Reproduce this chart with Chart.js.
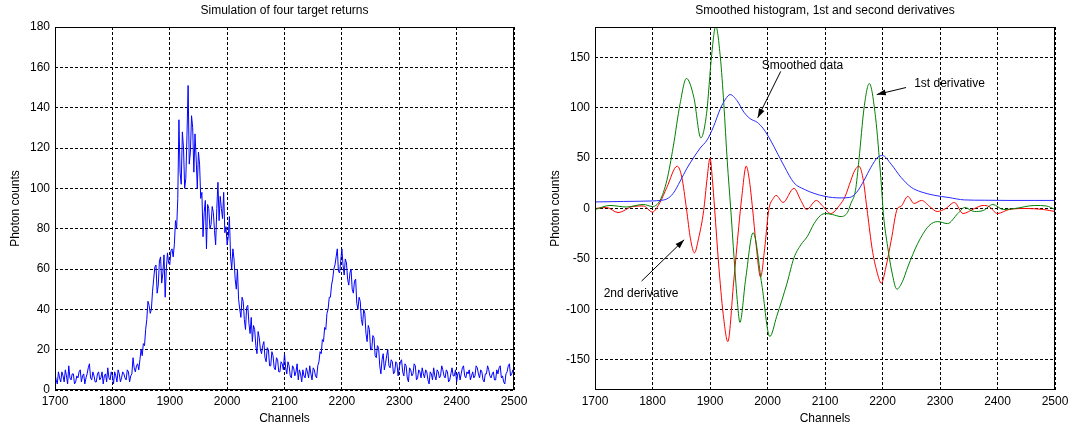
<!DOCTYPE html>
<html lang="en">
<head>
  <meta charset="UTF-8">
  <title>Target returns</title>
  <script src="https://cdn.jsdelivr.net/npm/chart.js"></script>
  <style>
    body { margin: 0; background: #fff; }
    canvas { position: absolute; top: 0; }
    #left { left: 0; }
    #right { left: 540px; }
  </style>
</head>
<body>
  <canvas id="left" width="540" height="432"></canvas>
  <canvas id="right" width="534" height="432"></canvas>

  <script>
    // left panel: raw photon counts, one value every 2 channels
    const channelStart = 1700;
    const channelStep = 2;
    const counts = [
      8, 5, 3, 9, 6, 4, 9, 7, 4, 10, 7, 3, 12, 6, 5, 8, 8, 3, 4, 7,
      6, 9, 10, 4, 7, 8, 3, 6, 8, 11, 13, 6, 5, 9, 7, 4, 4, 8, 9, 5,
      6, 9, 3, 7, 8, 4, 11, 6, 5, 9, 7, 3, 9, 7, 4, 10, 8, 4, 6, 9,
      8, 6, 5, 10, 9, 4, 7, 8, 16, 11, 9, 12, 13, 10, 15, 20, 17, 23, 22, 30,
      35, 44, 42, 38, 40, 49, 55, 61, 62, 48, 52, 64, 66, 53, 58, 67, 46, 60, 68, 63,
      62, 69, 70, 66, 72, 84, 80, 95, 134, 108, 102, 128, 120, 100, 105, 126, 151, 112, 118, 136,
      130, 108, 127, 115, 100, 118, 112, 95, 98, 76, 88, 94, 70, 92, 90, 80, 82, 91, 88, 79,
      72, 90, 103, 84, 96, 90, 85, 98, 78, 81, 72, 76, 86, 66, 60, 70, 65, 55, 50, 60,
      45, 40, 36, 46, 44, 35, 30, 41, 42, 33, 28, 36, 24, 32, 30, 22, 18, 29, 26, 20,
      18, 22, 24, 16, 14, 21, 20, 12, 12, 19, 17, 11, 10, 16, 15, 9, 9, 14, 13, 10,
      18, 11, 8, 14, 12, 7, 6, 12, 11, 7, 9, 13, 5, 10, 8, 4, 10, 7, 6, 11,
      9, 6, 12, 8, 5, 11, 10, 7, 6, 12, 14, 19, 18, 25, 24, 31, 30, 38, 40, 46,
      46, 52, 55, 60, 62, 66, 70, 59, 58, 64, 70, 62, 57, 65, 63, 55, 52, 58, 60, 50,
      48, 54, 55, 43, 40, 46, 44, 35, 32, 40, 38, 28, 24, 32, 30, 20, 20, 27, 26, 17,
      16, 22, 21, 12, 8, 15, 18, 10, 13, 17, 20, 12, 11, 15, 14, 8, 9, 14, 13, 7,
      11, 14, 15, 9, 7, 13, 12, 6, 4, 11, 10, 7, 8, 13, 12, 5, 6, 10, 9, 6,
      11, 8, 6, 10, 9, 5, 3, 9, 8, 5, 11, 7, 5, 10, 9, 6, 7, 12, 10, 7,
      6, 10, 9, 4, 5, 8, 11, 7, 7, 10, 4, 8, 9, 5, 8, 11, 12, 7, 6, 9,
      8, 10, 5, 7, 9, 6, 7, 12, 11, 8, 6, 10, 9, 5, 4, 8, 8, 12, 10, 7,
      6, 8, 9, 5, 5, 10, 8, 11, 12, 6, 7, 4, 3, 8, 9, 12, 13, 7, 8, 10,
      8
    ];

    // right panel: smoothed histogram and its derivatives
    const smoothX = [1700, 1750, 1800, 1813, 1825, 1836, 1848, 1860, 1871, 1883, 1895, 1906, 1918, 1927, 1935, 1947, 1959, 1970, 1982, 1993, 2005, 2017, 2029, 2046, 2064, 2081, 2100, 2126, 2143, 2155, 2168, 2180, 2192, 2200, 2215, 2232, 2250, 2267, 2291, 2314, 2343, 2378, 2420, 2465, 2500];
    const smoothY = [6.5, 7, 7.5, 8, 9.5, 15, 27, 40, 50, 60, 68, 81, 99, 108.5, 113, 107, 95.5, 89, 85.5, 79, 68, 55, 42, 25.5, 19, 15, 12, 10.5, 11, 16, 28, 41, 51, 52.5, 44, 31, 21, 16.5, 13, 11, 8.5, 8.2, 8, 8, 8];

    const d1X = [1700, 1726, 1755, 1784, 1800, 1813, 1825, 1836, 1848, 1859, 1872, 1884, 1894, 1903, 1910, 1918, 1924, 1930, 1936, 1942, 1948, 1952, 1962, 1975, 1990, 2004, 2016, 2034, 2046, 2058, 2069, 2081, 2092, 2101, 2113, 2128, 2139, 2145, 2153, 2159, 2168, 2177, 2188, 2197, 2202, 2209, 2216, 2225, 2235, 2244, 2261, 2281, 2296, 2313, 2331, 2343, 2360, 2375, 2392, 2410, 2430, 2465, 2485, 2500];
    const d1Y = [-1, 3, 1.5, 4, 2, 8, 28, 61, 104, 129, 110, 70, 94, 153, 181, 150, 104, 47, 0, -50, -95, -113, -70, -24, -75, -127, -107, -74, -49, -36, -28, -15, -7, -5, -6, -8, -4, 5, 18, 48, 100, 124, 90, 31, -8, -38, -62, -80, -72, -58, -35, -17, -13, -15, -5, 1, -3, -2, 4, -1, 0, 3, 2.5, -1];

    const d2X = [1700, 1720, 1740, 1766, 1784, 1800, 1813, 1825, 1843, 1851, 1859, 1866, 1873, 1880, 1889, 1895, 1900, 1904, 1908, 1915, 1923, 1931, 1941, 1950, 1955, 1963, 1968, 1974, 1980, 1988, 1995, 2002, 2010, 2015, 2027, 2046, 2058, 2068, 2085, 2095, 2110, 2125, 2135, 2145, 2152, 2159, 2166, 2174, 2182, 2190, 2198, 2206, 2215, 2226, 2232, 2244, 2255, 2268, 2282, 2295, 2310, 2325, 2340, 2360, 2375, 2385, 2400, 2420, 2450, 2480, 2500];
    const d2Y = [0, 1, -4, 2, 2.5, -3.5, 6, 21, 42, 31, 0, -30, -44, -30, -2, 30, 50, 30, 0, -55, -105, -132, -74, -18, 10, 42, 30, 0, -35, -68, -40, -2, 10, 13, 6, 20, 8, -1, 8, 3, -5, 3, 12, 28, 38, 42, 30, -5, -40, -62, -74, -58, -32, 0, 2, 12, 5, 8, 2, -3, 0, 6, -5, 0, 3, 2, -5, -1, 0, -1, -3];

    // text labels with arrows, in data units
    const notes = [
      { text: "Smoothed data", x: 1990, y: 142, from: [2023, 136], to: [1983, 90] },
      { text: "1st derivative", x: 2255, y: 124, from: [2241, 120], to: [2190, 113] },
      { text: "2nd derivative", x: 1715, y: -84, from: [1781, -72], to: [1855, -31] }
    ];

    const FONT = '12px "Liberation Sans", Arial, sans-serif';
    Chart.defaults.font.family = '"Liberation Sans", Arial, sans-serif';
    Chart.defaults.font.size = 12;
    Chart.defaults.color = "#000";

    const toPoints = (xs, ys) => xs.map((x, i) => ({ x: x, y: ys[i] }));

    // MATLAB-ish frame, title and annotations
    const framePlugin = {
      id: "frame",
      afterDraw(chart, args, opts) {
        const ctx = chart.ctx;
        const a = chart.chartArea;
        ctx.save();
        ctx.strokeStyle = "#000";
        ctx.lineWidth = 1;
        ctx.strokeRect(Math.round(a.left) + 0.5, Math.round(a.top) + 0.5,
          Math.round(a.right - a.left) - 1, Math.round(a.bottom - a.top) - 1);

        ctx.font = FONT;
        ctx.fillStyle = "#000";
        ctx.textAlign = "center";
        ctx.textBaseline = "middle";
        ctx.fillText(opts.title, (a.left + a.right) / 2, 11);

        const xs = chart.scales.x, ys = chart.scales.y;
        (opts.notes || []).forEach(n => {
          ctx.textAlign = "left";
          ctx.fillText(n.text, xs.getPixelForValue(n.x), ys.getPixelForValue(n.y));
          const x1 = xs.getPixelForValue(n.from[0]), y1 = ys.getPixelForValue(n.from[1]);
          const x2 = xs.getPixelForValue(n.to[0]), y2 = ys.getPixelForValue(n.to[1]);
          ctx.beginPath();
          ctx.moveTo(x1, y1);
          ctx.lineTo(x2, y2);
          ctx.stroke();
          const ang = Math.atan2(y2 - y1, x2 - x1);
          const len = 9, half = 3;
          ctx.beginPath();
          ctx.moveTo(x2, y2);
          ctx.lineTo(x2 - len * Math.cos(ang) + half * Math.sin(ang), y2 - len * Math.sin(ang) - half * Math.cos(ang));
          ctx.lineTo(x2 - len * Math.cos(ang) - half * Math.sin(ang), y2 - len * Math.sin(ang) + half * Math.cos(ang));
          ctx.closePath();
          ctx.fill();
        });
        ctx.restore();
      }
    };

    function makeOptions(yMin, yMax, yStep, padRight, title, notesList) {
      const grid = { color: "#000", lineWidth: 1, drawTicks: false, borderDash: [3, 2] };
      return {
        responsive: false,
        animation: false,
        events: [],
        layout: { padding: { top: 27, right: padRight, left: 0, bottom: 0 } },
        plugins: {
          legend: { display: false },
          tooltip: { enabled: false },
          frame: { title: title, notes: notesList }
        },
        elements: { point: { radius: 0 }, line: { borderWidth: 1 } },
        scales: {
          x: {
            type: "linear",
            min: 1700, max: 2500,
            grid: grid,
            border: { display: false, dash: [3, 2] },
            ticks: { stepSize: 100, padding: 4, maxRotation: 0, autoSkip: false, callback: v => String(v) },
            title: { display: true, text: "Channels", padding: { top: 0, bottom: 6 } },
            afterFit: s => { s.height = 42; }
          },
          y: {
            min: yMin, max: yMax,
            grid: grid,
            border: { display: false, dash: [3, 2] },
            ticks: { stepSize: yStep, padding: 5, autoSkip: false, callback: v => String(v) },
            afterBuildTicks: s => { s.ticks = s.ticks.filter(t => t.value % yStep === 0); },
            title: { display: true, text: "Photon counts", padding: { top: 8, bottom: 0 } },
            afterFit: s => { s.width = 55; }
          }
        }
      };
    }

    new Chart(document.getElementById("left"), {
      type: "line",
      data: {
        datasets: [{
          data: counts.map((v, i) => ({ x: channelStart + i * channelStep, y: v })),
          borderColor: "#0000ff",
          tension: 0
        }]
      },
      options: makeOptions(0, 180, 20, 26, "Simulation of four target returns", []),
      plugins: [framePlugin]
    });

    new Chart(document.getElementById("right"), {
      type: "line",
      data: {
        datasets: [
          { data: toPoints(smoothX, smoothY), borderColor: "#2a2aff", cubicInterpolationMode: "monotone" },
          { data: toPoints(d1X, d1Y), borderColor: "#008000", cubicInterpolationMode: "monotone" },
          { data: toPoints(d2X, d2Y), borderColor: "#ff0000", cubicInterpolationMode: "monotone" }
        ]
      },
      options: makeOptions(-180, 180, 50, 19, "Smoothed histogram, 1st and second derivatives", notes),
      plugins: [framePlugin]
    });
  </script>
</body>
</html>
